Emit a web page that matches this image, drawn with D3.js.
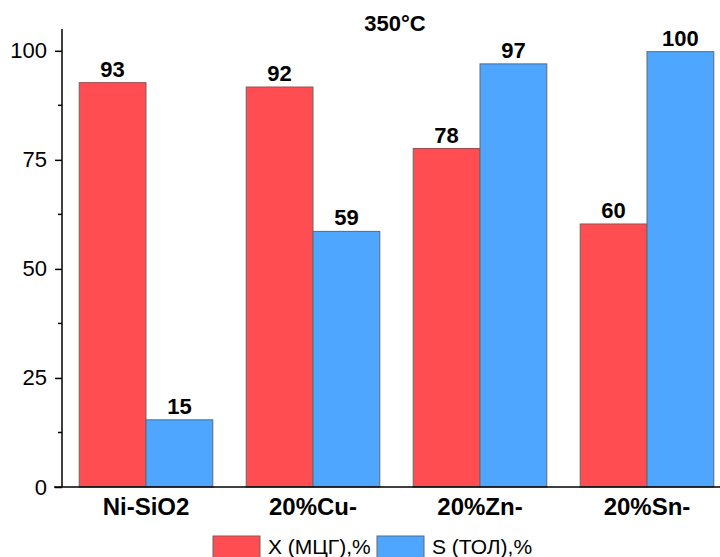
<!DOCTYPE html>
<html>
<head>
<meta charset="utf-8">
<script src="https://cdn.jsdelivr.net/npm/d3@7"></script>
<style>
  body { margin: 0; background: #fff; }
  svg { display: block; font-family: "Liberation Sans", Arial, sans-serif; }
</style>
</head>
<body>
<svg id="chart" width="720" height="557"></svg>
<script>
var categories = ["Ni-SiO2", "20%Cu-", "20%Zn-", "20%Sn-"]
// bar heights; labels as printed
var conversion = [92.7, 91.7, 77.6, 60.3]    // X (МЦГ),%
var selectivity = [15.4, 58.6, 97.0, 99.8]   // S (ТОЛ),%
var conversionLabels = ["93", "92", "78", "60"]
var selectivityLabels = ["15", "59", "97", "100"]
var seriesNames = ["X (МЦГ),%", "S (ТОЛ),%"]
var yTicks = [0, 25, 50, 75, 100]
var title = "350°C"

var colors = ["#ff4d51", "#4ea6ff"]

var svg = d3.select("#chart")

var x = d3.scaleBand()
    .domain(categories)
    .range([62.5, 730.5])
    .paddingInner(0.2)
    .paddingOuter(0.1)

var x1 = d3.scaleBand()
    .domain([0, 1])
    .range([0, x.bandwidth()])

var y = d3.scaleLinear()
    .domain([0, 105])
    .range([487, 29])

var rows = categories.map(function(c, i) {
    return {
        cat: c,
        values: [
            {v: conversion[i], label: conversionLabels[i]},
            {v: selectivity[i], label: selectivityLabels[i]}
        ]
    }
})

// bars
var group = svg.append("g")
    .selectAll("g")
    .data(rows)
    .enter().append("g")
    .attr("transform", function(d) { return "translate(" + x(d.cat) + ",0)" })

group.selectAll("rect")
    .data(function(d) { return d.values })
    .enter().append("rect")
    .attr("x", function(d, i) { return x1(i) })
    .attr("y", function(d) { return y(d.v) })
    .attr("width", x1.bandwidth())
    .attr("height", function(d) { return y(0) - y(d.v) })
    .attr("fill", function(d, i) { return colors[i] })
    .attr("stroke", "#666")
    .attr("stroke-width", 1)

group.selectAll("text")
    .data(function(d) { return d.values })
    .enter().append("text")
    .attr("x", function(d, i) { return x1(i) + x1.bandwidth() / 2 })
    .attr("y", function(d) { return y(d.v) - 6 })
    .attr("text-anchor", "middle")
    .attr("font-size", 22)
    .attr("font-weight", "bold")
    .text(function(d) { return d.label })

// y axis
var yAxis = svg.append("g")
    .attr("transform", "translate(62,0)")
    .call(d3.axisLeft(y).tickValues(yTicks).tickSize(7).tickPadding(8))
yAxis.select(".domain").attr("stroke", "#000").attr("stroke-width", 1.5)
    .attr("d", "M0," + y(105) + "V" + y(0))
yAxis.selectAll("line").attr("stroke-width", 1.5)
yAxis.selectAll("text").attr("font-size", 22).attr("font-family", "Liberation Sans, Arial, sans-serif").attr("fill", "#000")

// minor ticks
svg.append("g")
    .selectAll("line")
    .data(d3.range(12.5, 105, 25))
    .enter().append("line")
    .attr("x1", 58).attr("x2", 62)
    .attr("y1", function(d) { return y(d) })
    .attr("y2", function(d) { return y(d) })
    .attr("stroke", "#000")
    .attr("stroke-width", 1.5)

// x axis
var xAxis = svg.append("g")
    .attr("transform", "translate(0," + y(0) + ")")
    .call(d3.axisBottom(x).tickSize(0).tickPadding(11))
xAxis.select(".domain").attr("stroke", "#000").attr("stroke-width", 1.5)
    .attr("d", "M54,0H720")
xAxis.selectAll("text").attr("font-size", 24).attr("font-weight", "bold")
    .attr("font-family", "Liberation Sans, Arial, sans-serif").attr("fill", "#000")

// title
svg.append("text")
    .attr("x", 395)
    .attr("y", 31)
    .attr("text-anchor", "middle")
    .attr("font-size", 22)
    .attr("font-weight", "bold")
    .text(title)

// legend
var legendX = [213, 377]
var legend = svg.append("g")
    .selectAll("g")
    .data(seriesNames)
    .enter().append("g")
    .attr("transform", function(d, i) { return "translate(" + legendX[i] + ",536)" })

legend.append("rect")
    .attr("width", 47)
    .attr("height", 24)
    .attr("fill", function(d, i) { return colors[i] })
    .attr("stroke", "#666")

legend.append("text")
    .attr("x", 55)
    .attr("y", 18)
    .attr("font-size", 21)
    .text(function(d) { return d })
</script>
</body>
</html>
